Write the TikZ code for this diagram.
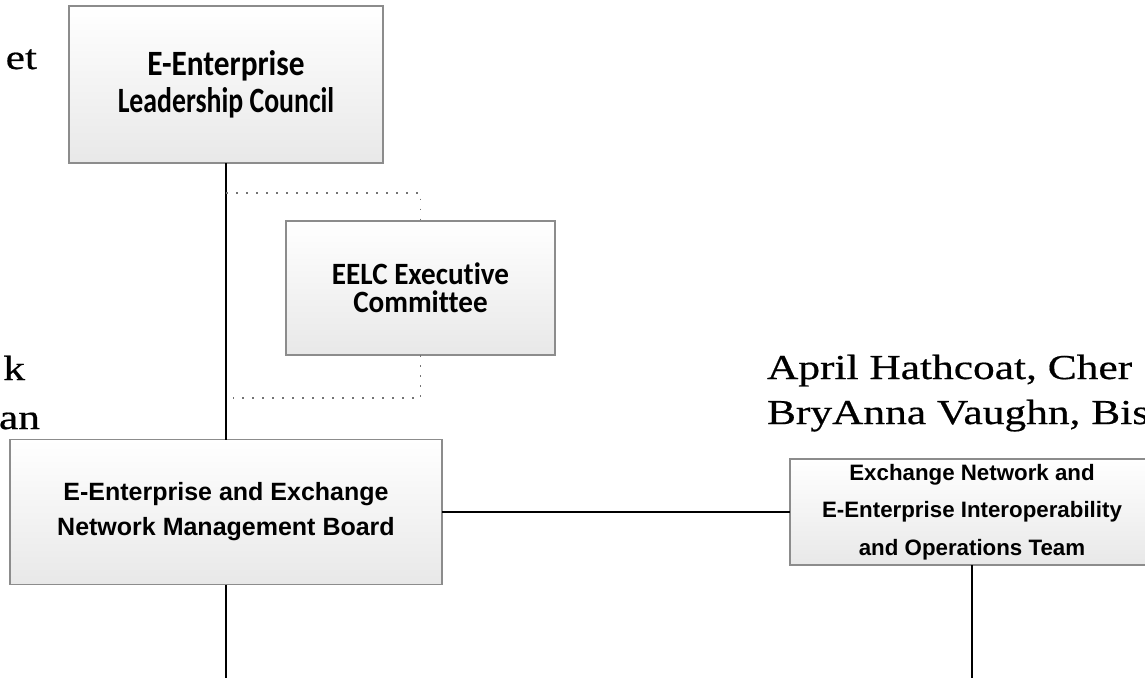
\documentclass[tikz,border=0pt]{standalone}
\usepackage{fontspec}
\newfontfamily\sidefont[FakeStretch=1.24,FakeBold=0.5]{Liberation Serif}
\newfontfamily\calA[FakeStretch=0.88,Ligatures=NoCommon]{Carlito}
\newfontfamily\calC[FakeStretch=0.78,Ligatures=NoCommon]{Carlito}
\newfontfamily\calB[FakeStretch=0.94,Ligatures=NoCommon]{Carlito}
\newfontfamily\arialf{Liberation Sans}
\tikzset{
  boxbase/.style={rectangle, draw=black!45, line width=1.4pt, top color=white, bottom color=black!9,
    inner sep=0pt, outer sep=0pt, align=center, text=black},
  conn/.style={line width=1.9pt, black},
  dotline/.style={black!55, line width=1.5pt, dash pattern=on 1.5pt off 8.5pt},
  side/.style={font=\sidefont\fontsize{35}{45}\selectfont, inner sep=0pt, outer sep=0pt, text=black},
}
\begin{document}
\begin{tikzpicture}[x=1pt,y=-1pt]
\useasboundingbox (0,0) rectangle (1145,678);
\clip (0,0) rectangle (1145,678);
\fill[white] (0,0) rectangle (1145,678);
\coordinate (bot) at (0,678);
% boxes
\node[boxbase, minimum width=314pt, minimum height=157pt,
  font=\bfseries\fontsize{35.6}{36.7}\selectfont] (eelc) at (226,84.5) {{\calA E-Enterprise}\\{\calC Leadership Council}};
\node[boxbase, minimum width=269pt, minimum height=134pt,
  font=\calB\bfseries\fontsize{31}{28.4}\selectfont] (exec) at (420.5,288) {EELC Executive\\Committee};
\node[boxbase, minimum width=432pt, minimum height=145pt,
  font=\arialf\bfseries\fontsize{25}{35}\selectfont] (board) at (226,512) {E-Enterprise and Exchange\\Network Management Board};
\node[boxbase, minimum width=364pt, minimum height=106pt,
  font=\arialf\bfseries\fontsize{22.3}{37.5}\selectfont] (team) at (972,512) {Exchange Network and\\E-Enterprise Interoperability\\and Operations Team};
% connectors
\draw[conn] (eelc.south) -- (board.north);
\draw[conn] (board.south) -- (board.south |- bot);
\draw[conn] (board.east) -- (team.west);
\draw[conn] (team.south) -- (team.south |- bot);
\coordinate (d1) at (226,193);
\coordinate (d2) at (233,398);
\draw[dotline] (d1) -| (exec.north);
\draw[dotline] (exec.south) |- (d2);
% side texts
\node[side, anchor=base east] (t1) at (37,69) {et};
\node[side, anchor=base east] (t2) at (25,380) {k};
\node[side, anchor=base east] (t3) at (40,429) {an};
\node[side, anchor=base west] (t4) at (767,379) {April Hathcoat, Cher};
\node[side, anchor=base west] (t5) at (767,424) {BryAnna Vaughn, Bis};
\end{tikzpicture}
\end{document}
